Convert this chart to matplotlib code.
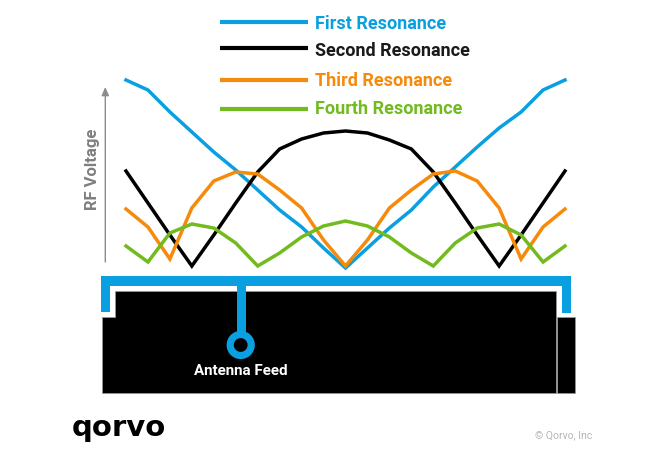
import matplotlib
matplotlib.use("Agg")
import matplotlib.pyplot as plt
from matplotlib.patches import Rectangle, Circle, Polygon

W, H = 662, 473
positions = list(range(21))
first = [200, 190, 168, 148, 128, 110, 90, 70, 53, 32, 12, 32, 52, 70, 93, 113, 133, 152, 168, 190, 200]
second = [109, 77, 45, 14, 45, 77, 108, 131, 141, 147, 149, 147, 140, 131, 108, 77, 45, 14, 45, 77, 109]
third = [71, 53, 21, 72, 99, 108, 106, 90, 72, 40, 14, 40, 72, 90, 106, 109, 99, 72, 21, 53, 71]
fourth = [34, 18, 47, 56, 52, 37, 14, 27, 43, 54, 59, 54, 43, 27, 14, 37, 52, 56, 45, 18, 34]
series_names = ["First Resonance", "Second Resonance", "Third Resonance", "Fourth Resonance"]
series = [first, second, third, fourth]
colors = ["#0a9fe0", "#000000", "#f58a0b", "#72bb1f"]
text_colors = ["#0a9fe0", "#1a1a1a", "#f58a0b", "#72bb1f"]
legend_line_y = [22, 48, 80, 109]
legend_text_y = [24, 51.5, 80.5, 108.5]

FONT = ["Roboto", "DejaVu Sans"]
fig = plt.figure(figsize=(W / 100, H / 100), dpi=100, facecolor="white")

# Overlay in pixel coordinates for the antenna sketch
bg = fig.add_axes([0, 0, 1, 1])
bg.set_xlim(0, W)
bg.set_ylim(H, 0)
bg.axis("off")

BLUE = colors[0]
# ground block with notches
bg.add_patch(Polygon([(102, 317), (115, 317), (115, 291), (556, 291), (556, 393), (102, 393)],
                     closed=True, fc="black", ec="#999999", lw=0.5))
bg.add_patch(Rectangle((556.5, 317), 18.5, 76, fc="black", ec="#999999", lw=0.5))
# antenna bracket
bg.add_patch(Rectangle((101, 276), 470, 9.5, fc=BLUE, ec="none"))
bg.add_patch(Rectangle((101, 276), 9, 36, fc=BLUE, ec="none"))
bg.add_patch(Rectangle((562, 276), 9, 36.5, fc=BLUE, ec="none"))
bg.add_patch(Rectangle((236.5, 280), 9, 55, fc=BLUE, ec="none"))
bg.add_patch(Circle((240.7, 345), 10.5, fc="black", ec=BLUE, lw=5.2))
bg.text(240.5, 370.5, "Antenna Feed", color="white", fontsize=10.9, fontweight="bold",
        family=FONT, ha="center", va="center")

# axis arrow and label
bg.annotate("", xy=(105.3, 87), xytext=(105.3, 262),
            arrowprops=dict(arrowstyle="-|>,head_width=0.22,head_length=0.5", color="#8c8c8c", lw=1.0,
                            shrinkA=0, shrinkB=0))
bg.text(93, 169, "RF Voltage", color="#7f7f7f", fontsize=12, fontweight="bold", family=FONT,
        rotation=90, ha="center", va="center")

# legend
for name, c, tc, ly, ty in zip(series_names, colors, text_colors, legend_line_y, legend_text_y):
    bg.plot([220, 308], [ly, ly], color=c, lw=3.0, solid_capstyle="butt")
    bg.text(315, ty, name, color=tc, fontsize=13, fontweight="bold", family=FONT, ha="left", va="center")

# logo and copyright
bg.text(72, 436, "qorvo", color="black", fontsize=21, fontweight="bold", family=["DejaVu Sans"],
        ha="left", va="baseline")
bg.text(535, 435.5, "© Qorvo, Inc", color="#b5b5b5", fontsize=7.5, family=FONT, ha="left", va="center")

# chart axes: pixels 126..565 horizontally, 280..70 vertically
ax = fig.add_axes([126 / W, 1 - 280 / H, (565 - 126) / W, 210 / H])
ax.patch.set_alpha(0)
ax.set_xlim(0, 20)
ax.set_ylim(0, 210)
ax.axis("off")
for vals, c in zip(series, colors):
    ax.plot(positions, vals, color=c, lw=2.5, solid_joinstyle="miter", clip_on=False)
fig.savefig("out.png", dpi=100, facecolor="white")
